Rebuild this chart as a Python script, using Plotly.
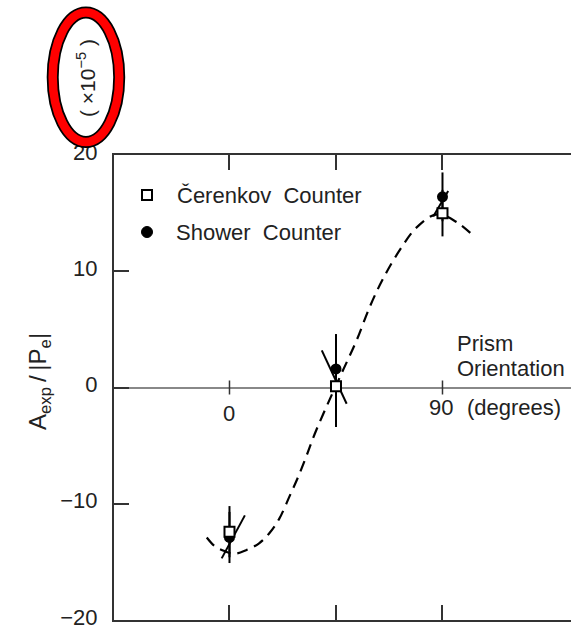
import plotly.graph_objects as go

# ---------------- data ----------------
orient = [0, 45, 90]                      # prism orientation (degrees)
cerenkov_y = [-12.4, 0.1, 15.0]           # open squares
cerenkov_err = [2.2, 3.5, 2.0]
shower_y = [-12.9, 1.6, 16.4]             # filled circles
shower_err = [2.2, 3.0, 2.1]

# slanted error strokes (endpoints, data units)
slant_x0 = [6.5, 39.0, 86.1]
slant_y0 = [-11.0, 3.2, 14.7]
slant_x1 = [-3.3, 49.5, 92.4]
slant_y1 = [-14.7, -1.4, 16.9]

# dashed fit curve
curve_x = [-9.6, -6.5, -3.0, 2.0, 7.0, 12.5, 17.0, 21.0, 25.5, 29.0, 32.5, 36.0,
           42.4, 48.0, 53.8, 59.4, 65.0, 72.2, 79.2, 87.7, 96.2, 103.3]
curve_y = [-12.9, -13.6, -14.0, -14.3, -14.0, -13.4, -12.5, -11.3, -9.3, -7.7, -5.9, -4.0,
           -1.0, 1.5, 4.1, 7.0, 9.4, 11.9, 13.8, 14.9, 14.2, 13.0]

y_ticks = [-20, -10, 0, 10, 20]
x_ticks = [0, 45, 90]
zero_ticks = [0, 90]

FONT = "Liberation Sans, Arial, Helvetica, sans-serif"
INK = "#222222"

# ---------------- geometry helpers (pixels -> paper) ----------------
W, H = 571, 627
ML, MR, MT, MB = 114, 0, 155, 7
PW, PH = W - ML - MR, H - MT - MB


def px(x):
    return (x - ML) / PW


def py(y):
    return (H - MB - y) / PH


fig = go.Figure()

# fit curve
fig.add_trace(go.Scatter(
    x=curve_x, y=curve_y, mode="lines",
    line=dict(color="black", width=2.2, dash="11px,7px", shape="spline"),
    showlegend=False, hoverinfo="skip"))

# slanted strokes
sx, sy = [], []
for a, b, c, d in zip(slant_x0, slant_y0, slant_x1, slant_y1):
    sx += [a, c, None]
    sy += [b, d, None]
fig.add_trace(go.Scatter(x=sx, y=sy, mode="lines",
                         line=dict(color="black", width=2),
                         showlegend=False, hoverinfo="skip"))

# shower counter (filled circles)
fig.add_trace(go.Scatter(
    x=orient, y=shower_y, mode="markers", name="Shower Counter",
    marker=dict(symbol="circle", size=11, color="black"),
    error_y=dict(type="data", array=shower_err, visible=True,
                 color="black", thickness=2, width=0),
    showlegend=False))

# Cerenkov counter (open squares)
fig.add_trace(go.Scatter(
    x=orient, y=cerenkov_y, mode="markers", name="Čerenkov Counter",
    marker=dict(symbol="square", size=10, color="white",
                line=dict(color="black", width=2)),
    error_y=dict(type="data", array=cerenkov_err, visible=True,
                 color="black", thickness=2, width=0),
    showlegend=False))

shapes = []
# small "+" ticks on the zero line
for t in zero_ticks:
    shapes.append(dict(type="line", xref="x", yref="y", x0=t, x1=t,
                       ysizemode="pixel", yanchor=0, y0=-7, y1=7,
                       line=dict(color="#333", width=1.5)))

# manual legend glyphs
shapes.append(dict(type="rect", xref="paper", yref="paper",
                   x0=px(142), x1=px(152), y0=py(200), y1=py(190),
                   fillcolor="white", line=dict(color="black", width=2)))
shapes.append(dict(type="circle", xref="paper", yref="paper",
                   x0=px(141.5), x1=px(152.5), y0=py(237.5), y1=py(226.5),
                   fillcolor="black", line=dict(color="black", width=1)))

# red highlight ellipse around the scale factor
shapes.append(dict(type="circle", xref="paper", yref="paper",
                   x0=px(52.7), x1=px(119.2), y0=py(142), y1=py(12.5),
                   line=dict(color="black", width=12), layer="above"))
shapes.append(dict(type="circle", xref="paper", yref="paper",
                   x0=px(52.7), x1=px(119.2), y0=py(142), y1=py(12.5),
                   line=dict(color="#ff0000", width=8.5), layer="above"))

tf = dict(family=FONT, size=22, color=INK)
annotations = [
    dict(text="Čerenkov\u00a0 Counter", xref="paper", yref="paper",
         x=px(175), y=py(195), xanchor="left", yanchor="middle",
         showarrow=False, font=tf),
    dict(text="Shower\u00a0 Counter", xref="paper", yref="paper",
         x=px(174), y=py(232), xanchor="left", yanchor="middle",
         showarrow=False, font=tf),
    dict(text="0", xref="x", yref="y", x=0, y=-2.2,
         xanchor="center", yanchor="middle", showarrow=False, font=tf),
    dict(text="90", xref="x", yref="y", x=89.3, y=-1.7,
         xanchor="center", yanchor="middle", showarrow=False, font=tf),
    dict(text="(degrees)", xref="x", yref="y", x=99.5, y=-1.7,
         xanchor="left", yanchor="middle", showarrow=False, font=tf),
    dict(text="Prism", xref="x", yref="y", x=95.3, y=3.8,
         xanchor="left", yanchor="middle", showarrow=False, font=tf),
    dict(text="Orientation", xref="x", yref="y", x=95.3, y=1.65,
         xanchor="left", yanchor="middle", showarrow=False, font=tf),
    dict(text="A<sub>exp</sub>\u2009/\u2009|P<sub>e</sub>|", xref="paper", yref="paper",
         x=px(39), y=py(382), xanchor="center", yanchor="middle",
         textangle=-90, showarrow=False, font=dict(family=FONT, size=24, color=INK)),
    dict(text="( ×10<sup>−5</sup> )", xref="paper", yref="paper",
         x=px(86), y=py(78), xanchor="center", yanchor="middle",
         textangle=-90, showarrow=False, font=dict(family=FONT, size=21, color=INK)),
]

fig.update_layout(
    width=W, height=H,
    margin=dict(l=ML, r=MR, t=MT, b=MB, pad=0, autoexpand=False),
    paper_bgcolor="white", plot_bgcolor="white",
    shapes=shapes, annotations=annotations,
    xaxis=dict(range=[-48.8, 144.3], showgrid=False, zeroline=False,
               showline=True, linecolor="#333", linewidth=1.5, mirror="ticks",
               ticks="inside", ticklen=15, tickwidth=1.5, tickcolor="#333",
               tickvals=x_ticks, showticklabels=False, fixedrange=True,
               automargin=False),
    yaxis=dict(range=[-20, 20], showgrid=False, zeroline=True,
               zerolinecolor="#888", zerolinewidth=1.5,
               showline=True, linecolor="#333", linewidth=2,
               ticks="inside", ticklen=15, tickwidth=1.5, tickcolor="#333",
               tickvals=y_ticks, tickfont=tf, ticklabelstandoff=10,
               ticklabelshift=-3,
               ticklabeloverflow="allow", fixedrange=True, automargin=False),
    showlegend=False,
)

fig.write_html("out.html")
